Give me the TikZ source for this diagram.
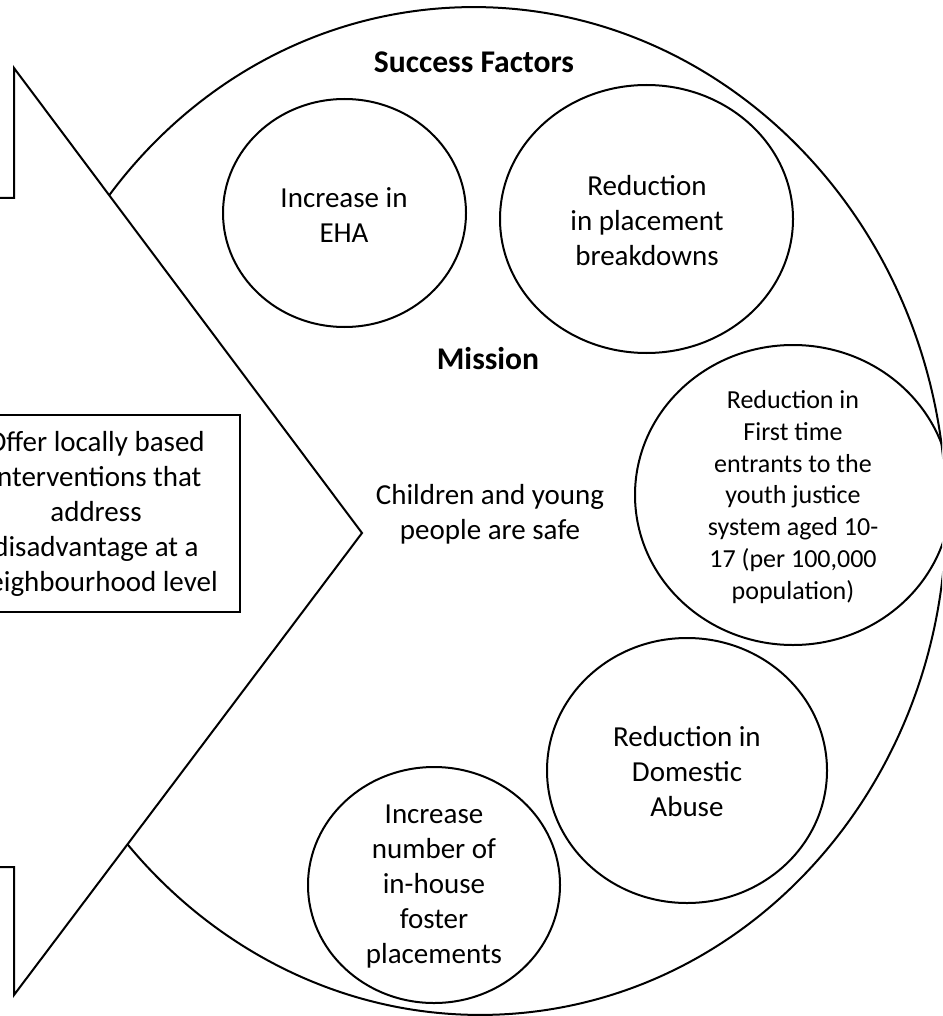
\documentclass[tikz,border=0pt]{standalone}
\usepackage{fontspec}
\setmainfont{Carlito}
\usepackage{tikz}

\begin{document}
\begin{tikzpicture}[x=0.5pt, y=-0.5pt, line width=1pt,
        goal/.style={align=center, font=\fontsize{14.5}{17.5}\selectfont},
        smallgoal/.style={align=center, font=\fontsize{13}{15.85}\selectfont},
        heading/.style={font=\fontsize{15.8}{19}\selectfont\bfseries}]
            \useasboundingbox (0,0) rectangle (942,1016);
            \clip (0,0) rectangle (942,1016);

            \draw[rotate around={3:(477,511)}] (477,511) ellipse [x radius=469, y radius=504];

            \draw[fill=white] (-20,198) -- (14,198) -- (14,68) -- (362,533) -- (14,995) -- (14,867) -- (-20,867) -- cycle;

            \node[goal, draw, fill=white, minimum width=144pt, minimum height=98.5pt, inner sep=0pt] (offer) at (96,513.5)
                {Offer locally based\\interventions that\\address\\disadvantage at a\\neighbourhood level};

            \foreach \cx/\cy/\rx/\ry in {
                344.5/213/121.5/114,
                646.5/219/146.5/134,
                793/495/158/150,
                687/770.5/140/132.5,
                434/885/126/118
            } {
                \draw (\cx,\cy) ellipse [x radius=\rx, y radius=\ry];
            }

            \node[heading] (success) at (474,62) {Success Factors};
            \node[heading] (mission) at (488,359) {Mission};
            \node[goal] (safe) at (490,514) {Children and young\\people are safe};

            \node[goal] (eha) at (344,215) {Increase in\\EHA};
            \node[goal] (breakdowns) at (647,221) {Reduction\\in placement\\breakdowns};
            \node[smallgoal] (entrants) at (793,497) {Reduction in\\First time\\entrants to the\\youth justice\\system aged 10-\\17 (per 100,000\\population)};
            \node[goal] (abuse) at (687,772) {Reduction in\\Domestic\\Abuse};
            \node[goal] (foster) at (434,887) {Increase\\number of\\in-house\\foster\\placements};
\end{tikzpicture}
\end{document}
